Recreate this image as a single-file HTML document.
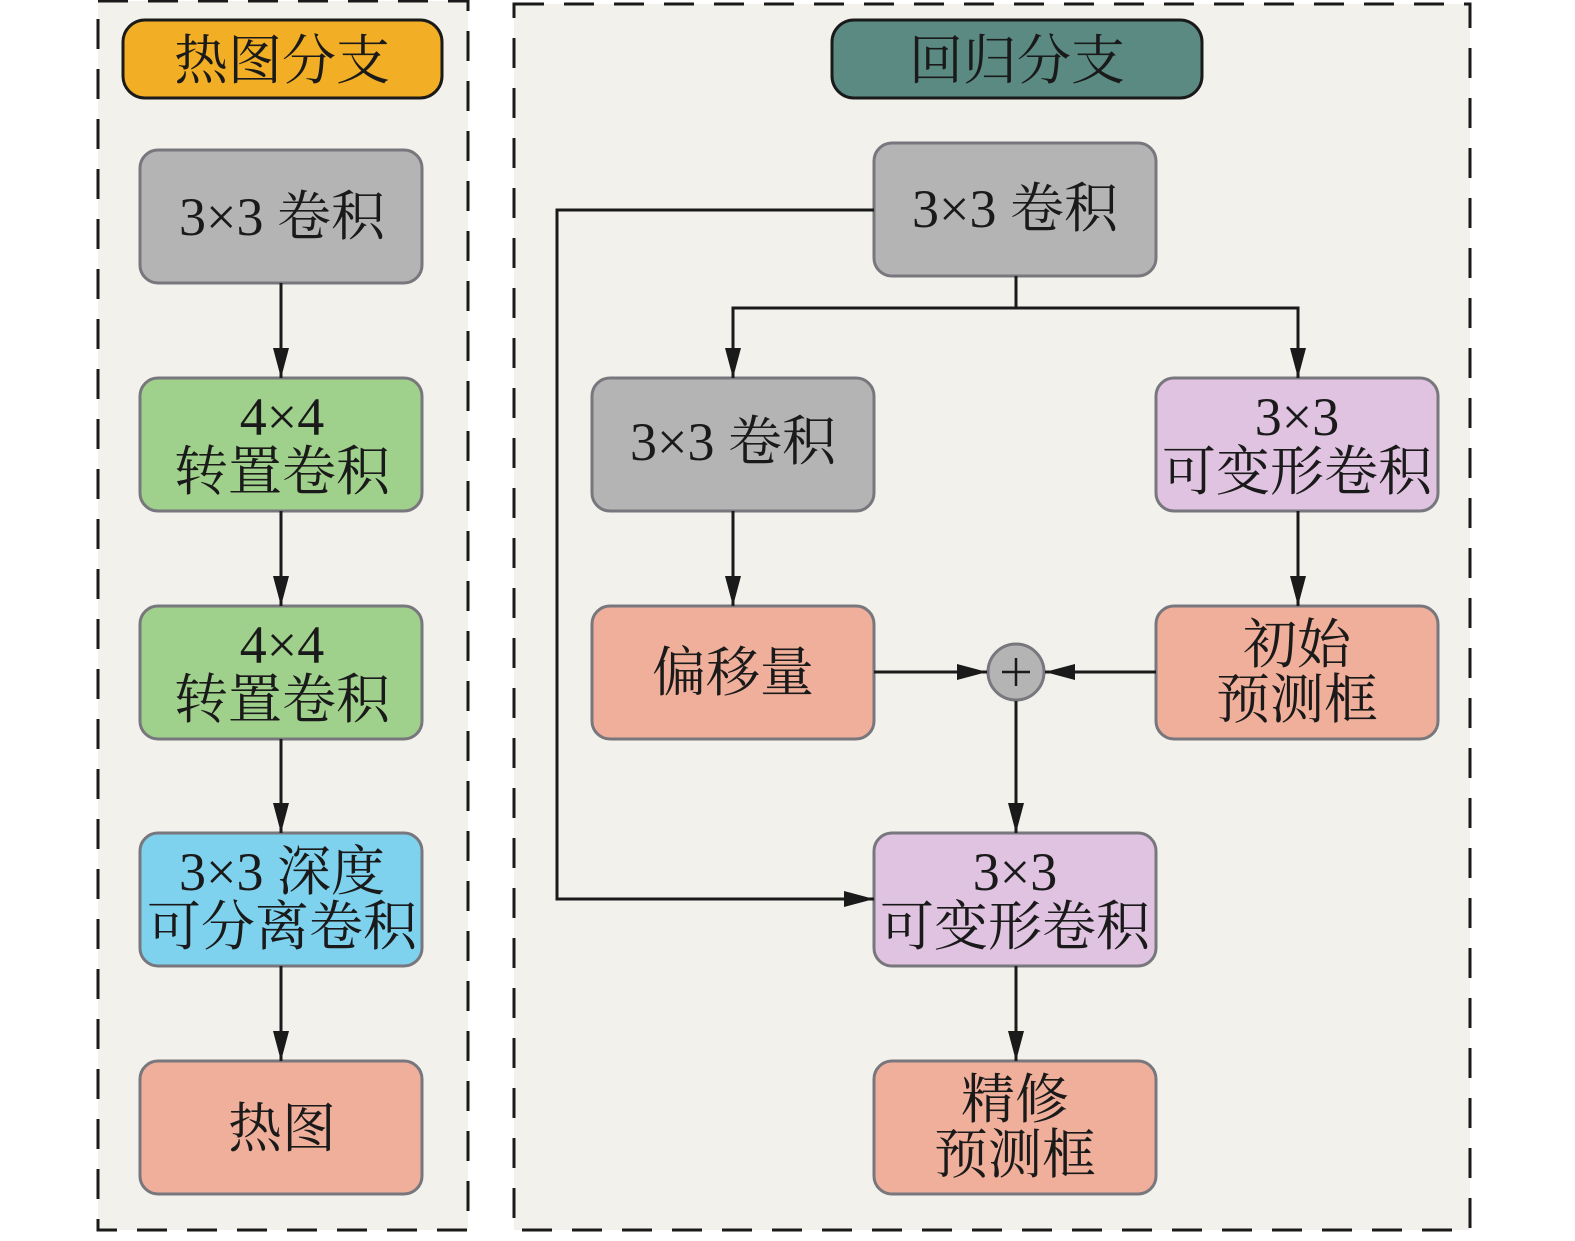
<!DOCTYPE html>
<html><head><meta charset="utf-8"><style>
html,body{margin:0;padding:0;background:#fff;}
svg text{font-family:"Liberation Serif","Noto Serif CJK SC",serif;fill:#1a1a1a;text-anchor:middle;font-size:54px;}
</style></head><body>
<svg width="1575" height="1236" viewBox="0 0 1575 1236" xmlns="http://www.w3.org/2000/svg">
<defs><marker id="a" markerWidth="10" markerHeight="10" refX="9" refY="5" orient="auto" markerUnits="userSpaceOnUse" viewBox="0 0 10 10"><path d="M0,1 L10,5 L0,9 z" fill="#1a1a1a"/></marker>
<marker id="b" markerWidth="30" markerHeight="16" refX="30" refY="8" orient="auto" markerUnits="userSpaceOnUse"><path d="M0,0 L30,8 L0,16 z" fill="#1a1a1a"/></marker></defs>
<rect x="98" y="1" width="370" height="1229" fill="#f3f1ec" stroke="#1a1a1a" stroke-width="3" stroke-dasharray="30,20"/>
<rect x="514" y="4" width="956" height="1226" fill="#f3f1ec" stroke="#1a1a1a" stroke-width="3" stroke-dasharray="30,20"/>
<g stroke="#1a1a1a" stroke-width="3" fill="none">
<rect x="123" y="20" width="319" height="78" rx="22" fill="#f2ae25"/>
<rect x="832" y="20" width="370" height="78" rx="22" fill="#5a8a82"/>
</g>
<text x="282" y="79">热图分支</text>
<text x="1017" y="79">回归分支</text>
<g stroke="#77777d" stroke-width="3">
<rect x="140" y="150" width="282" height="133" rx="18" fill="#b4b4b4"/>
<rect x="140" y="378" width="282" height="133" rx="18" fill="#a0d18c"/>
<rect x="140" y="606" width="282" height="133" rx="18" fill="#a0d18c"/>
<rect x="140" y="833" width="282" height="133" rx="18" fill="#7fd2ee"/>
<rect x="140" y="1061" width="282" height="133" rx="18" fill="#efaf9a"/>
<rect x="874" y="143" width="282" height="133" rx="18" fill="#b4b4b4"/>
<rect x="592" y="378" width="282" height="133" rx="18" fill="#b4b4b4"/>
<rect x="1156" y="378" width="282" height="133" rx="18" fill="#dfc3e0"/>
<rect x="592" y="606" width="282" height="133" rx="18" fill="#efaf9a"/>
<rect x="1156" y="606" width="282" height="133" rx="18" fill="#efaf9a"/>
<rect x="874" y="833" width="282" height="133" rx="18" fill="#dfc3e0"/>
<rect x="874" y="1061" width="282" height="133" rx="18" fill="#efaf9a"/>
<circle cx="1016" cy="672" r="28" fill="#b4b4b4"/>
</g>
<g stroke="#1a1a1a" stroke-width="3" fill="none">
<path d="M1002 672 H1030 M1016 658 V686" stroke-width="2.5"/>
<path d="M281 283 V378" marker-end="url(#b)"/>
<path d="M281 511 V606" marker-end="url(#b)"/>
<path d="M281 739 V833" marker-end="url(#b)"/>
<path d="M281 966 V1061" marker-end="url(#b)"/>
<path d="M874 210 H557 V899 H874" marker-end="url(#b)"/>
<path d="M1016 276 V308 H733 V378" marker-end="url(#b)"/>
<path d="M1016 308 H1298 V378" marker-end="url(#b)"/>
<path d="M733 511 V606" marker-end="url(#b)"/>
<path d="M1298 511 V606" marker-end="url(#b)"/>
<path d="M874 672 H987" marker-end="url(#b)"/>
<path d="M1156 672 H1045" marker-end="url(#b)"/>
<path d="M1016 701 V833" marker-end="url(#b)"/>
<path d="M1016 966 V1061" marker-end="url(#b)"/>
</g>
<text x="282" y="235">3×3 卷积</text>
<text x="282" y="435">4×4</text><text x="282" y="490">转置卷积</text>
<text x="282" y="663">4×4</text><text x="282" y="718">转置卷积</text>
<text x="282" y="890">3×3 深度</text><text x="282" y="945">可分离卷积</text>
<text x="282" y="1147">热图</text>
<text x="1015" y="227">3×3 卷积</text>
<text x="733" y="460">3×3 卷积</text>
<text x="1297" y="435">3×3</text><text x="1297" y="490">可变形卷积</text>
<text x="733" y="691">偏移量</text>
<text x="1297" y="663">初始</text><text x="1297" y="718">预测框</text>
<text x="1015" y="890">3×3</text><text x="1015" y="945">可变形卷积</text>
<text x="1015" y="1118">精修</text><text x="1015" y="1173">预测框</text>
</svg>
</body></html>
